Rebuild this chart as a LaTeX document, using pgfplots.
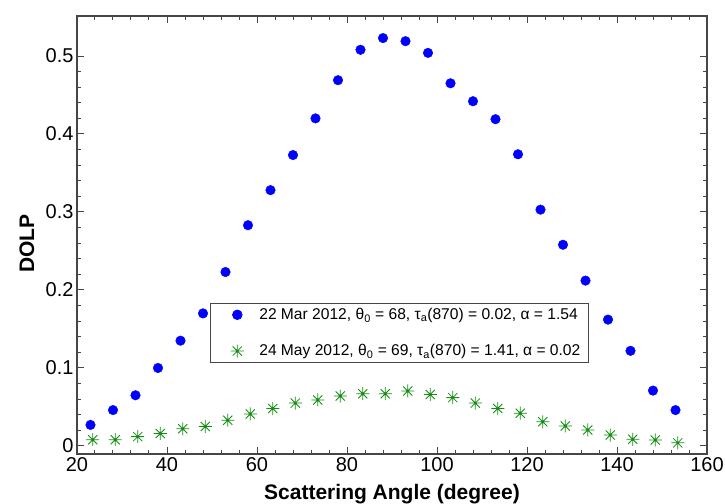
\documentclass[border=0pt]{standalone}
\usepackage{pgfplots}
\pgfplotsset{compat=1.18}
\usepackage{fontspec}
\setmainfont{Liberation Sans}
\definecolor{myblue}{RGB}{0,0,255}
\definecolor{mygreen}{RGB}{20,140,20}
\definecolor{axgray}{RGB}{70,70,70}
\pgfdeclareplotmark{star8}{%
 \pgfpathmoveto{\pgfqpoint{-\pgfplotmarksize}{0pt}}\pgfpathlineto{\pgfqpoint{\pgfplotmarksize}{0pt}}%
 \pgfpathmoveto{\pgfqpoint{0pt}{-\pgfplotmarksize}}\pgfpathlineto{\pgfqpoint{0pt}{\pgfplotmarksize}}%
 \pgfpathmoveto{\pgfqpoint{-0.707\pgfplotmarksize}{-0.707\pgfplotmarksize}}\pgfpathlineto{\pgfqpoint{0.707\pgfplotmarksize}{0.707\pgfplotmarksize}}%
 \pgfpathmoveto{\pgfqpoint{-0.707\pgfplotmarksize}{0.707\pgfplotmarksize}}\pgfpathlineto{\pgfqpoint{0.707\pgfplotmarksize}{-0.707\pgfplotmarksize}}%
 \pgfusepathqstroke}
\begin{document}
\begin{tikzpicture}
\begin{axis}[
 scale only axis, width=630pt, height=438pt,
 xmin=20, xmax=160, ymin=-0.0103, ymax=0.5513,
 xtick={20,40,60,80,100,120,140,160},
 ytick={0,0.1,0.2,0.3,0.4,0.5},
 minor x tick num=4, minor y tick num=4,
 tick align=inside, major tick length=7pt, minor tick length=4pt,
 axis line style={axgray, line width=1.2pt},
 every tick/.style={axgray, line width=1pt},
 ticklabel style={font=\fontsize{20}{24}\selectfont},
 /pgf/number format/assume math mode=true,
 xlabel={Scattering Angle (degree)}, ylabel={DOLP},
 label style={font=\bfseries\fontsize{21}{25}\selectfont},
 xlabel style={at={(rel axis cs:0.5,0)}, anchor=base, yshift=-46pt},
 ylabel style={at={([xshift=-50pt]rel axis cs:0,0.48)}, anchor=center, rotate=0},
 legend style={at={(rel axis cs:0.211,0.208)}, anchor=south west, draw=axgray, line width=0.8pt,
   font=\fontsize{15.6}{18.6}\selectfont, cells={anchor=west}, row sep=19.5pt, inner xsep=6pt, inner ysep=3pt},
 legend image code/.code={\path[draw=none,fill=none] (0pt,0pt) -- (41pt,0pt); \draw[#1,only marks] plot coordinates {(21pt,0pt)};},
]
\coordinate (bl) at (rel axis cs:0,0);
\coordinate (tr) at (rel axis cs:1,1);
\addplot[only marks, mark=*, mark size=4.8pt, color=myblue, mark options={fill=myblue, draw=myblue}] coordinates {
(23,0.027) (28,0.046) (33,0.065) (38,0.100) (43,0.135) (48,0.170) (53,0.223)
(58,0.283) (63,0.328) (68,0.373) (73,0.420) (78,0.469) (83,0.508) (88,0.523)
(93,0.519) (98,0.504) (103,0.465) (108,0.442) (113,0.419) (118,0.374) (123,0.303)
(128,0.258) (133,0.212) (138,0.162) (143,0.122) (148,0.071) (153,0.046)
};
\addlegendentry{22 Mar 2012, θ\textsubscript{0} = 68, τ\textsubscript{a}(870) = 0.02, α = 1.54}
\addplot[only marks, mark=star8, mark size=6.5pt, color=mygreen, mark options={line width=0.8pt}] coordinates {
(23.5,0.008) (28.5,0.008) (33.5,0.012) (38.5,0.016) (43.5,0.022) (48.5,0.025) (53.5,0.033)
(58.5,0.041) (63.5,0.048) (68.5,0.055) (73.5,0.059) (78.5,0.064) (83.5,0.067) (88.5,0.067)
(93.5,0.0705) (98.5,0.066) (103.5,0.062) (108.5,0.055) (113.5,0.048) (118.5,0.042) (123.5,0.031)
(128.5,0.0256) (133.5,0.0205) (138.5,0.014) (143.5,0.0086) (148.5,0.0077) (153.5,0.004)
};
\addlegendentry{24 May 2012, θ\textsubscript{0} = 69, τ\textsubscript{a}(870) = 1.41, α = 0.02}
\end{axis}
\pgfresetboundingbox
\path (bl) +(-77pt,-50pt) (tr) +(18pt,16pt);
\end{tikzpicture}
\end{document}
